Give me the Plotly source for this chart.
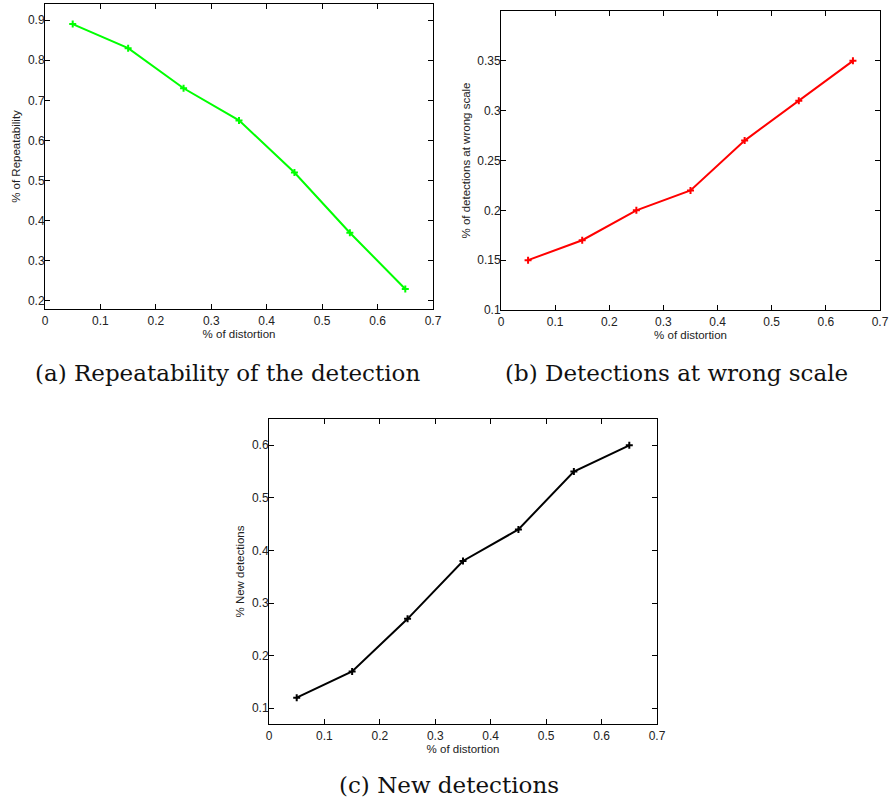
import plotly.graph_objects as go

W, H = 889, 803

distortion = [0.05, 0.15, 0.25, 0.35, 0.45, 0.55, 0.65]
repeatability = [0.89, 0.83, 0.73, 0.65, 0.52, 0.37, 0.23]
wrong_scale = [0.15, 0.17, 0.20, 0.22, 0.27, 0.31, 0.35]
new_detections = [0.12, 0.17, 0.27, 0.38, 0.44, 0.55, 0.60]

x_ticks = [0, 0.1, 0.2, 0.3, 0.4, 0.5, 0.6, 0.7]
x_ticktext = ["0", "0.1", "0.2", "0.3", "0.4", "0.5", "0.6", "0.7"]
ya_ticks = [0.2, 0.3, 0.4, 0.5, 0.6, 0.7, 0.8, 0.9]
yb_ticks = [0.1, 0.15, 0.2, 0.25, 0.3, 0.35]
yb_ticktext = ["0.1", "0.15", "0.2", "0.25", "0.3", "0.35"]
yc_ticks = [0.1, 0.2, 0.3, 0.4, 0.5, 0.6]

captions = ["(a) Repeatability of the detection", "(b) Detections at wrong scale", "(c) New detections"]

# panel boxes in page pixels: left, right, top, bottom
boxes = [(45, 433, 4, 309), (501, 880, 11, 310), (269, 657, 419, 724)]

def px_x(p):
    return p / W

def px_y(p):
    return 1 - p / H

fig = go.Figure()

series = [
    (repeatability, "#00ff00", "x", "y"),
    (wrong_scale, "#ff0000", "x2", "y2"),
    (new_detections, "#000000", "x3", "y3"),
]
for vals, col, xa, ya in series:
    fig.add_trace(go.Scatter(
        x=distortion, y=vals, mode="lines+markers", xaxis=xa, yaxis=ya,
        line=dict(color=col, width=2),
        marker=dict(symbol="cross-thin", size=5, line=dict(color=col, width=2)),
        showlegend=False, hoverinfo="skip", cliponaxis=False))

tickfont = dict(family="Liberation Sans, Arial, sans-serif", size=12, color="#222")
titlefont = dict(family="Liberation Sans, Arial, sans-serif", size=11.5, color="#222")

common_ax = dict(showline=True, linecolor="black", linewidth=1, mirror="ticks",
                 ticks="inside", ticklen=5, tickcolor="black", showgrid=False,
                 zeroline=False, tickfont=tickfont, ticklabeloverflow="allow",
                 automargin=False)

xranges = [0, 0.7]
yranges = [[0.18, 0.94], [0.1, 0.4], [0.07, 0.65]]
ylabels = ["% of Repeatability", "% of detections at wrong scale", "% New detections"]
ytickvals = [ya_ticks, yb_ticks, yc_ticks]
yticktexts = [None, yb_ticktext, None]

layout = dict(width=W, height=H, margin=dict(l=0, r=0, t=0, b=0, autoexpand=False),
              plot_bgcolor="white", paper_bgcolor="white")
for i, (l, r, t, b) in enumerate(boxes):
    sfx = "" if i == 0 else str(i + 1)
    ax_x = dict(common_ax, domain=[px_x(l), px_x(r)], range=xranges, tickvals=x_ticks,
                ticktext=x_ticktext, anchor="y" + sfx, ticklabelstandoff=1,
                title=dict(text="% of distortion", font=titlefont, standoff=1))
    ax_y = dict(common_ax, domain=[px_y(b), px_y(t)], range=yranges[i], tickvals=ytickvals[i],
                anchor="x" + sfx, ticklabelstandoff=-3,
                title=dict(text=ylabels[i], font=titlefont, standoff=4))
    if yticktexts[i] is not None:
        ax_y["ticktext"] = yticktexts[i]
    layout["xaxis" + sfx] = ax_x
    layout["yaxis" + sfx] = ax_y

fig.update_layout(**layout)

cap_pos = [(228, 373), (676, 373), (449, 785)]
for txt, (cx, cy) in zip(captions, cap_pos):
    fig.add_annotation(text=txt, x=px_x(cx), y=px_y(cy), xref="paper", yref="paper",
                       showarrow=False, xanchor="center", yanchor="middle",
                       font=dict(family="DejaVu Serif, Liberation Serif, serif", size=23, color="#111"))

fig.write_html("out.html", config={"displayModeBar": False},
               post_script="document.body.style.margin='0px';document.body.style.overflow='hidden';")
